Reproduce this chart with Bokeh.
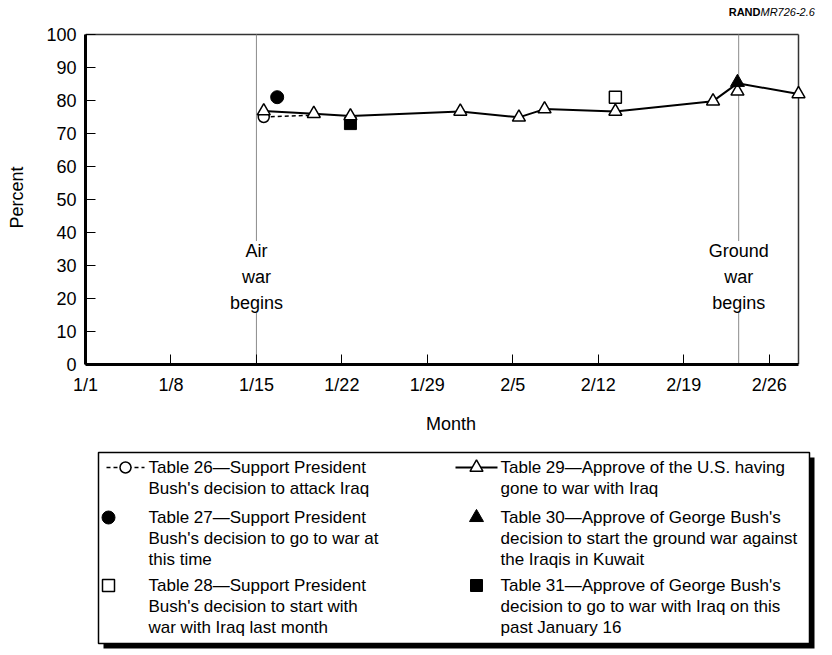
from bokeh.plotting import figure
from bokeh.models import Range1d, FixedTicker, Label
from bokeh.layouts import column
from bokeh.embed import file_html
from bokeh.resources import INLINE
from bokeh.core.properties import value

FONT = "Liberation Sans"
FS = "18px"
LFS = "17px"

# ---------------- data (x = days since 1 January 1991) ----------------
tick_days = [0, 7, 14, 21, 28, 35, 42, 49, 56]
tick_labels = ["1/1", "1/8", "1/15", "1/22", "1/29", "2/5", "2/12", "2/19", "2/26"]
y_ticks = [0, 10, 20, 30, 40, 50, 60, 70, 80, 90, 100]
x_last = 58.4          # last day shown (right border of the chart)
y_top = 100

t26_days = [14.6, 18.4]
t26_pct = [75.0, 75.5]
t27_days = [15.7]
t27_pct = [81.0]
t28_days = [43.4]
t28_pct = [81.0]
t29_days = [14.6, 18.7, 21.7, 30.7, 35.5, 37.6, 43.4, 51.4, 53.4, 58.4]
t29_pct = [76.8, 76.0, 75.3, 76.7, 74.9, 77.4, 76.7, 79.8, 82.8, 82.0]
t29_line_pct = [76.8, 76.0, 75.3, 76.7, 74.9, 77.4, 76.7, 79.8, 85.2, 82.0]
t30_days = [53.4]
t30_pct = [85.5]
t31_days = [21.7]
t31_pct = [73.0]

event_days = [14.0, 53.5]
event_labels = ["Air\nwar\nbegins", "Ground\nwar\nbegins"]
event_label_pct = 26.5

legend_left = [
    ["Table 26\u2014Support President", "Bush's decision to attack Iraq"],
    ["Table 27\u2014Support President", "Bush's decision to go to war at", "this time"],
    ["Table 28\u2014Support President", "Bush's decision to start with", "war with Iraq last month"],
]
legend_right = [
    ["Table 29\u2014Approve of the U.S. having", "gone to war with Iraq"],
    ["Table 30\u2014Approve of George Bush's", "decision to start the ground war against", "the Iraqis in Kuwait"],
    ["Table 31\u2014Approve of George Bush's", "decision to go to war with Iraq on this", "past January 16"],
]

# ---------------- layout (page pixels) ----------------
W = 816
H0 = 22                 # strip with the figure id
H1 = 414                # chart
H2 = 216                # legend
FRAME_L, FRAME_R, FRAME_T, FRAME_B = 85, 798, 34, 364
px_day = (FRAME_R - FRAME_L) / x_last
px_pct = (FRAME_B - FRAME_T) / y_top
x_end = (W - FRAME_L) / px_day          # frame reaches the right edge of the canvas
top_pad = 4
y_end = y_top + top_pad / px_pct

# ---- strip with figure id ----
S = figure(width=W, height=H0, x_range=Range1d(FRAME_L, W), y_range=Range1d(H0, 0),
           output_backend="svg", toolbar_location=None,
           x_axis_location=None, y_axis_location=None,
           min_border_left=FRAME_L, min_border_right=0, min_border_top=0, min_border_bottom=0)
S.outline_line_color = None
S.xgrid.visible = False
S.ygrid.visible = False
id_x = W - 56
S.text([id_x], [11], text=["RAND"], text_font=value(FONT), text_font_size="11px",
       text_font_style="bold", text_align="right", text_baseline="middle",
       text_color="black")
S.text([id_x], [11], text=["MR726-2.6"], text_font=value(FONT), text_font_size="11px",
       text_font_style="italic", text_align="left", text_baseline="middle",
       text_color="black")

# ---- chart ----
p = figure(width=W, height=H1, x_range=Range1d(0, x_end), y_range=Range1d(0, y_end),
           output_backend="svg", toolbar_location=None,
           min_border_left=FRAME_L, min_border_right=0,
           min_border_top=FRAME_T - H0 - top_pad,
           min_border_bottom=H0 + H1 - FRAME_B)
p.xgrid.visible = False
p.ygrid.visible = False
p.outline_line_color = None

for ax in (p.xaxis[0], p.yaxis[0]):
    ax.axis_line_width = 3
    ax.axis_line_color = "black"
    ax.major_tick_in = 10
    ax.major_tick_out = 0
    ax.major_tick_line_color = "black"
    ax.major_tick_line_width = 1
    ax.minor_tick_line_color = None
    ax.major_label_text_font = FONT
    ax.major_label_text_font_size = FS
    ax.major_label_text_color = "black"
    ax.axis_label_text_font = FONT
    ax.axis_label_text_font_size = FS
    ax.axis_label_text_font_style = "normal"
    ax.axis_label_text_color = "black"

p.xaxis.ticker = FixedTicker(ticks=tick_days)
p.xaxis.major_label_overrides = {d: l for d, l in zip(tick_days, tick_labels)}
p.xaxis.axis_label = "Month"
p.xaxis.major_label_standoff = 10
p.xaxis.axis_label_standoff = 16
p.xaxis.bounds = (0, x_last)
p.yaxis.ticker = FixedTicker(ticks=y_ticks)
p.yaxis.axis_label = "Percent"
p.yaxis.major_label_standoff = 9
p.yaxis.axis_label_standoff = 16
p.yaxis.bounds = (0, y_top)

# top and right border of the chart box
p.segment(x0=[0, x_last], y0=[y_top, 0], x1=[x_last, x_last], y1=[y_top, y_top],
          line_color="#333333", line_width=1.5)

# event lines and labels
p.segment(x0=event_days, y0=[0] * len(event_days), x1=event_days,
          y1=[y_top] * len(event_days), line_color="#8c8c8c", line_width=1)
for d, t in zip(event_days, event_labels):
    p.add_layout(Label(x=d, y=event_label_pct, text=t, text_align="center",
                       text_baseline="middle", text_font=FONT, text_font_size=FS,
                       text_color="black", background_fill_color="white",
                       text_line_height=1.3))

p.line(t26_days, t26_pct, line_color="black", line_width=1.5, line_dash="4 3")
p.line(t29_days, t29_line_pct, line_color="black", line_width=2)
p.scatter(t26_days[:1], t26_pct[:1], marker="circle", size=11,
          fill_color="white", line_color="black", line_width=1.5)
p.scatter(t27_days, t27_pct, marker="circle", size=13,
          fill_color="black", line_color="black")
p.scatter(t28_days, t28_pct, marker="square", size=12,
          fill_color="white", line_color="black", line_width=1.5)
p.scatter(t31_days, t31_pct, marker="square", size=12,
          fill_color="black", line_color="black")
p.scatter(t29_days, t29_pct, marker="triangle", size=13,
          fill_color="white", line_color="black", line_width=1.5)
p.scatter(t30_days, t30_pct, marker="triangle", size=14,
          fill_color="black", line_color="black")

# ---- legend panel (data units = page pixels) ----
top2 = H0 + H1
L = figure(width=W, height=H2, x_range=Range1d(FRAME_L, W), y_range=Range1d(top2 + H2, top2),
           output_backend="svg", toolbar_location=None,
           x_axis_location=None, y_axis_location=None,
           min_border_left=FRAME_L, min_border_right=0, min_border_top=0, min_border_bottom=0)
L.outline_line_color = None
L.xgrid.visible = False
L.ygrid.visible = False

box_l, box_r, box_t, box_b, shadow = 98, 809, 452, 643, 5
L.quad(left=[box_l + shadow], right=[box_r + shadow], top=[box_t + shadow],
       bottom=[box_b + shadow], fill_color="black", line_color=None)
L.quad(left=[box_l], right=[box_r], top=[box_t], bottom=[box_b],
       fill_color="white", line_color="black", line_width=1.5)

line_h = 21
row_gap = [8, 5]
row_y = []
y0 = 467
for i, (a, b) in enumerate(zip(legend_left, legend_right)):
    row_y.append(y0)
    y0 += max(len(a), len(b)) * line_h + (row_gap[i] if i < len(row_gap) else 0)

col_mark = [108, 476]
col_text = [148, 500]

tx, ty, tt = [], [], []
for col, entries in enumerate([legend_left, legend_right]):
    for r, lines in enumerate(entries):
        for k, s in enumerate(lines):
            tx.append(col_text[col])
            ty.append(row_y[r] + k * line_h)
            tt.append(s)
L.text(tx, ty, text=tt, text_font=value(FONT), text_font_size=LFS,
       text_baseline="middle", text_align="left", text_color="black")

L.line([col_mark[0] - 2, col_mark[0] + 36], [row_y[0], row_y[0]], line_color="black",
       line_width=1.5, line_dash="4 3")
L.scatter([col_mark[0] + 17], [row_y[0]], marker="circle", size=11,
          fill_color="white", line_color="black", line_width=1.5)
L.scatter([col_mark[0]], [row_y[1]], marker="circle", size=13,
          fill_color="black", line_color="black")
L.scatter([col_mark[0]], [row_y[2]], marker="square", size=12,
          fill_color="white", line_color="black", line_width=1.5)
L.line([col_mark[1] - 21, col_mark[1] + 21], [row_y[0], row_y[0]], line_color="black",
       line_width=2)
L.scatter([col_mark[1]], [row_y[0]], marker="triangle", size=13,
          fill_color="white", line_color="black", line_width=1.5)
L.scatter([col_mark[1]], [row_y[1]], marker="triangle", size=14,
          fill_color="black", line_color="black")
L.scatter([col_mark[1]], [row_y[2]], marker="square", size=12,
          fill_color="black", line_color="black")

layout = column(S, p, L)
open("out.html", "w").write(file_html(layout, INLINE))
